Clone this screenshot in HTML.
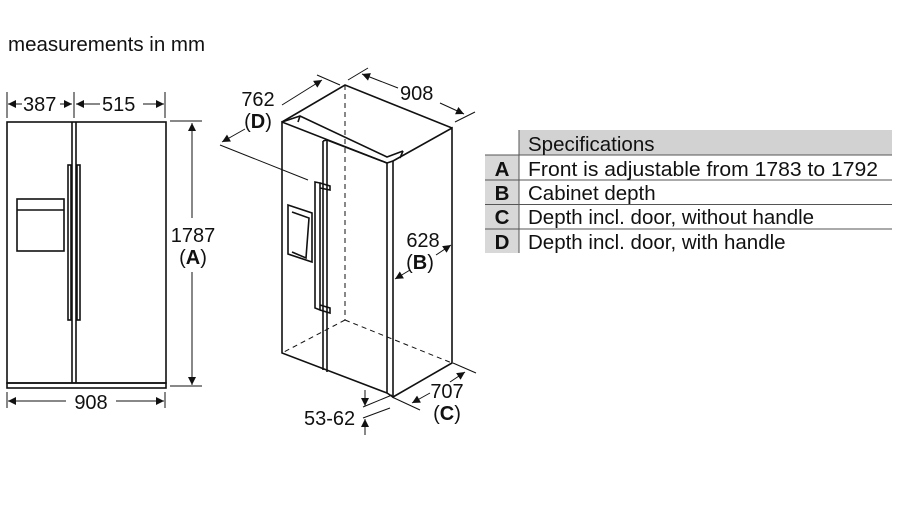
<!DOCTYPE html><html><head><style>body{margin:0;background:#fff}svg{display:block}text{font-family:"Liberation Sans",sans-serif;fill:#111}</style></head><body>
<svg width="900" height="506" viewBox="0 0 900 506" xmlns="http://www.w3.org/2000/svg">
<defs><marker id="a" viewBox="0 0 10 10" refX="10" refY="5" markerWidth="11" markerHeight="8" orient="auto-start-reverse" markerUnits="userSpaceOnUse"><path d="M0,0L10,5L0,10z" fill="#111"/></marker></defs>
<text x="8" y="51" font-size="20.5">measurements in mm</text>
<g stroke="#111" fill="none" stroke-width="1.6">
<!-- front view -->
<rect x="7" y="122" width="159" height="261"/><rect x="7" y="383" width="159" height="5"/>
<line x1="72" y1="122" x2="72" y2="383"/><line x1="76" y1="122" x2="76" y2="383"/>
<rect x="68" y="165" width="3" height="155"/><rect x="77" y="165" width="3" height="155"/>
<rect x="17" y="199" width="47" height="52"/><line x1="17" y1="210" x2="64" y2="210"/>
<g stroke-width="1"><line x1="7" y1="92" x2="7" y2="118"/><line x1="74" y1="92" x2="74" y2="118"/><line x1="165" y1="92" x2="165" y2="118"/>
<line x1="170" y1="121" x2="202" y2="121"/><line x1="170" y1="386" x2="202" y2="386"/>
<line x1="7" y1="392" x2="7" y2="408"/><line x1="165" y1="392" x2="165" y2="408"/></g>
<g stroke-width="1">
<line x1="8" y1="104" x2="22" y2="104" marker-start="url(#a)"/><line x1="60" y1="104" x2="72" y2="104" marker-end="url(#a)"/>
<line x1="76" y1="104" x2="100" y2="104" marker-start="url(#a)"/><line x1="143" y1="104" x2="164" y2="104" marker-end="url(#a)"/>
<line x1="192" y1="123" x2="192" y2="218" marker-start="url(#a)"/><line x1="192" y1="272" x2="192" y2="385" marker-end="url(#a)"/>
<line x1="8" y1="401" x2="66" y2="401" marker-start="url(#a)"/><line x1="116" y1="401" x2="164" y2="401" marker-end="url(#a)"/>
</g>
<!-- iso -->
<path d="M282,122 L282,353 L387,393 L387,163 Z"/>
<path d="M387,163 L393,161 L393,397 L387,393"/>
<path d="M393,161 L452,128 L452,363 L393,397"/>
<path d="M282,122 L345,85 L452,128"/>
<path d="M282,122 L300,116 L387,157 L403,151"/>
<line x1="300" y1="116" x2="298" y2="122"/><line x1="403" y1="151" x2="400" y2="158"/>
<line x1="323" y1="141" x2="323" y2="370"/><line x1="327" y1="140" x2="327" y2="372"/>
<path d="M323,141 L327,140 L387,163"/>
<g stroke-dasharray="5,4" stroke-width="1"><line x1="345" y1="85" x2="345" y2="320"/><line x1="345" y1="320" x2="282" y2="353"/><line x1="345" y1="320" x2="452" y2="363"/></g>
<path d="M315,182 L320,183 L320,310 L315,308 Z"/><path d="M320,183 L330,186 L330,190 L320,188"/><path d="M320,305 L330,308 L330,313 L320,310"/>
<path d="M288,205 L312,213 L312,262 L288,254 Z"/><path d="M292,212 L309,218 L306,258 L292,252"/>
<g stroke-width="1">
<line x1="220" y1="145" x2="308" y2="180"/><line x1="317" y1="75" x2="340" y2="85"/>
<line x1="282" y1="105" x2="322" y2="80" marker-end="url(#a)"/><line x1="222" y1="142" x2="245" y2="129" marker-start="url(#a)"/>
<line x1="348" y1="80" x2="368" y2="68"/><line x1="455" y1="122" x2="475" y2="112"/>
<line x1="362" y1="74" x2="398" y2="88" marker-start="url(#a)"/><line x1="440" y1="103" x2="464" y2="114" marker-end="url(#a)"/>
<line x1="410" y1="270" x2="395" y2="279" marker-end="url(#a)"/><line x1="436" y1="255" x2="451" y2="245" marker-end="url(#a)"/>
<line x1="453" y1="363" x2="476" y2="373"/><line x1="392" y1="397" x2="420" y2="410"/>
<line x1="412" y1="403" x2="430" y2="393" marker-start="url(#a)"/><line x1="450" y1="382" x2="465" y2="372" marker-end="url(#a)"/>
<line x1="363" y1="407" x2="392" y2="395"/><line x1="363" y1="418" x2="390" y2="408"/>
<line x1="365" y1="390" x2="365" y2="406" marker-end="url(#a)"/><line x1="365" y1="435" x2="365" y2="419" marker-end="url(#a)"/>
</g></g>
<g font-size="20">
<text x="23" y="111">387</text><text x="102" y="111">515</text>
<text x="193" y="242" text-anchor="middle">1787</text><text x="193" y="264" text-anchor="middle">(<tspan font-weight="bold">A</tspan>)</text>
<text x="91" y="409" text-anchor="middle">908</text>
<text x="258" y="106" text-anchor="middle">762</text><text x="258" y="128" text-anchor="middle">(<tspan font-weight="bold">D</tspan>)</text>
<text x="400" y="100">908</text>
<text x="423" y="247" text-anchor="middle">628</text><text x="420" y="269" text-anchor="middle">(<tspan font-weight="bold">B</tspan>)</text>
<text x="447" y="398" text-anchor="middle">707</text><text x="447" y="420" text-anchor="middle">(<tspan font-weight="bold">C</tspan>)</text>
<text x="304" y="425">53-62</text>
</g>
<!-- table -->
<rect x="519" y="130" width="373" height="25" fill="#d2d2d2"/>
<rect x="485" y="155" width="34" height="98" fill="#d8d8d8"/>
<g stroke="#555" stroke-width="1"><line x1="519" y1="130" x2="519" y2="253"/>
<line x1="485" y1="155" x2="892" y2="155"/><line x1="485" y1="180" x2="892" y2="180"/><line x1="485" y1="204.5" x2="892" y2="204.5"/><line x1="485" y1="229" x2="892" y2="229"/></g>
<g font-size="20.5"><text x="528" y="151">Specifications</text>
<text x="528" y="176" textLength="350" lengthAdjust="spacingAndGlyphs">Front is adjustable from 1783 to 1792</text>
<text x="528" y="200">Cabinet depth</text>
<text x="528" y="224">Depth incl. door, without handle</text>
<text x="528" y="249">Depth incl. door, with handle</text>
<g font-weight="bold" text-anchor="middle"><text x="502" y="176">A</text><text x="502" y="200">B</text><text x="502" y="224">C</text><text x="502" y="249">D</text></g></g>
</svg></body></html>
